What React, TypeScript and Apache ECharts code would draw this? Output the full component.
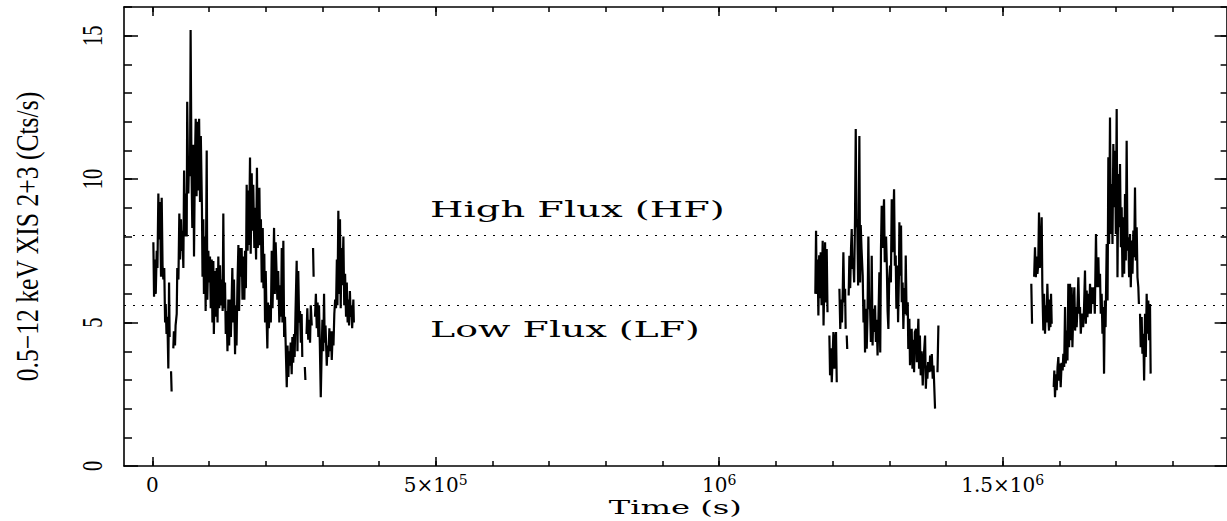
import React, { useEffect, useRef } from "react";
import * as echarts from "echarts";

// Light curve: [time (ks), rate (cts/s)]; null marks a data gap
const seg1: Array<[number, number | null]> = [
  [1.8, 7.8], [3.0, 5.9], [4.5, 7.2], [6.0, 6.0], [7.7, 7.5], [9.0, 6.9], [10.6, 9.5], [12.0, 7.9], [13.5, 9.2],
  [15.3, 6.6], [16.5, 9.35], [18.0, 7.0], [19.4, 6.5], [21, 6.9], [22.5, 5.0], [23.6, 5.65], [25, 4.6], [26.5, 5.2],
  [28.2, 3.4], [29.5, 6.4], [30.5, 4.5], [31.5, null], [33, 3.3], [34, 2.6], [35.5, null], [37, 4.1], [38, 4.7],
  [40, 4.2], [41, 4.9], [43, 5.3], [44, 6.9], [46, 6.5], [47.6, 8.8], [49, 7.2], [50.5, 8.6], [51.8, 7.5], [53, 8.2],
  [54.7, 6.9], [56, 10.3], [57.5, 8.0], [59, 9.5], [60.6, 8.0], [61.5, 12.7], [63.5, 9.5], [64.5, 10.5], [66.5, 10.1],
  [67.5, 15.2], [69, 10.5], [70.5, 8.3], [72.3, 11.2], [73.5, 7.3], [75, 10.5], [76.5, 12.1], [78, 9.4], [79.5, 12.0],
  [81.1, 9.6], [82.5, 12.1], [84.1, 9.2], [85.5, 11.5], [87.5, 9.0], [88.5, 6.6], [89.9, 8.6], [91, 6.0], [92.9, 8.0],
  [94, 5.4], [95.9, 11.0], [97, 5.8], [98.8, 7.5], [100, 6.4], [101.7, 7.3], [103, 5.5], [104.7, 7.2], [106, 5.0],
  [107.6, 7.15], [108.5, 4.6], [110.6, 6.8], [112, 5.2], [113.5, 6.9], [115, 5.0], [116.4, 7.3], [118, 5.5], [119.4, 7.0],
  [121, 5.6], [122.5, 6.5], [124, 5.4], [125.2, 8.8], [126.5, 5.5], [128.2, 6.4], [129.5, 4.6], [131.2, 5.4], [132.5, 4.0],
  [134.1, 5.8], [135.5, 4.2], [137, 5.8], [138.5, 4.5], [141.1, 6.9], [142.5, 5.0], [144, 6.5], [145.9, 3.9], [147, 5.6],
  [148.5, 4.2], [150, 6.2], [151.8, 7.7], [153, 5.4], [154.7, 7.6], [156, 6.6], [157.6, 7.6], [159, 5.8], [160.5, 7.3],
  [162.3, 5.8], [163.5, 7.5], [165, 6.2], [166.4, 9.8], [168, 7.5], [169.3, 9.6], [170.5, 7.7], [172.3, 10.75], [173.5, 7.4],
  [175.3, 10.2], [176.5, 8.2], [178, 9.8], [179.9, 7.6], [181, 9.0], [183, 7.2], [184.5, 10.4], [186, 7.6], [188.8, 9.7],
  [190, 7.7], [191.5, 8.6], [193, 6.4], [194.7, 8.3], [196, 6.2], [197.5, 7.4], [198.8, 5.0], [200, 6.8], [201.5, 5.2],
  [202.9, 4.1], [204, 5.7], [205.5, 4.8], [207.6, 5.6], [209, 5.0], [210.6, 7.5], [212, 5.5], [213.5, 7.0], [214.7, 8.3],
  [216, 6.0], [217.5, 7.8], [219.4, 6.6], [220.5, 5.8], [222, 6.8], [224, 5.0], [225.5, 6.3], [227, 5.2], [228.3, 7.6],
  [229.5, 5.0], [231.1, 7.85], [232.5, 4.5], [234, 5.2], [235.5, 4.0], [237.1, 2.75], [238.5, 4.2], [240, 3.1], [241.1, 4.0],
  [242.5, 3.5], [244, 4.3], [245.8, 3.2], [247, 4.5], [248.5, 3.6], [249.9, 4.6], [251, 3.8], [252.5, 5.3], [254.6, 7.15],
  [256, 4.0], [257.4, 6.8], [259, 5.0], [260.5, 5.4], [262, 4.3], [263.4, 5.3], [264.5, 3.8], [266.5, null], [269, 3.45],
  [270, 3.0], [271, null], [272, 4.6], [273.4, 5.5], [275, 4.4], [276.5, 5.1], [278.2, 4.3], [279.5, 5.6], [281.2, 4.9],
  [282.3, null], [283.5, 7.6], [284.5, 6.6], [285.5, null], [287, 5.2], [288.5, 6.0], [290, 4.8], [291.5, 5.7], [292.8, 4.5],
  [294, 5.6], [295.5, 4.2], [297.1, 2.4], [298.5, 3.8], [300, 5.1], [301.5, 4.0], [302.9, 6.0], [304, 4.3], [305.5, 4.9],
  [307.7, 3.5], [309, 4.2], [310.5, 3.8], [312.3, 4.8], [313.5, 4.0], [315, 4.7], [316.5, 3.7], [318.2, 4.7], [319.5, 4.2],
  [321, 5.3], [322.5, 5.8], [324, 5.5], [325.5, 7.2], [326.5, 5.6], [328.1, 8.9], [329.5, 6.0], [331, 8.6], [332.3, 5.5],
  [333.5, 7.6], [335, 6.3], [337, 8.0], [338.5, 5.6], [340, 6.7], [341.7, 5.2], [343, 6.4], [344.5, 5.0], [345.7, 5.8],
  [347, 4.9], [348.5, 6.1], [349.9, 5.2], [351, 5.6], [352.5, 4.8], [354.6, 5.8], [355.5, 5.0],
];

const seg2: Array<[number, number | null]> = [
  [1169.5, 6.0], [1170.8, 8.2], [1172, 6.0], [1173.5, 7.2], [1174.9, 5.25], [1176.3, 7.35], [1177.8, 5.85], [1179, 7.45],
  [1180.5, 5.6], [1182.5, 7.85], [1184, 4.9], [1185.5, 6.5], [1186.7, 7.8], [1188, 5.7], [1189.6, 7.56], [1191, 5.36],
  [1192.5, null], [1194.3, 4.55], [1195.5, 3.16], [1197.2, 4.1], [1198.5, 2.92], [1200, 3.8], [1201.4, 4.67], [1203, 3.39],
  [1204.5, 4.4], [1206, 4.67], [1207.3, 2.92], [1209, null], [1212, 6.18], [1213.5, 4.78], [1215, 5.8], [1216.5, 5.0],
  [1218, 6.2], [1219, 7.45], [1220.5, 5.7], [1222, 6.18], [1223, 4.78], [1224, null], [1224.9, 4.55], [1225.8, 4.08],
  [1227, null], [1228.3, 5.94], [1229.6, 7.33], [1231, 6.2], [1232.5, 7.6], [1233.7, 8.26], [1235, 6.87], [1236.6, 7.1],
  [1238, 6.4], [1239.5, 8.6], [1240.8, 11.75], [1242, 8.61], [1243.7, 8.27], [1245, 6.29], [1247.2, 11.5], [1248.5, 6.4],
  [1249.6, 8.4], [1251, 7.57], [1253.1, 6.63], [1254.5, 5.0], [1256, 5.8], [1257.2, 3.96], [1258.5, 5.48], [1260.2, 4.09],
  [1261.5, 5.2], [1263.1, 8.0], [1264.5, 5.47], [1266, 5.6], [1267.5, 4.32], [1269, 7.33], [1270.5, 4.2], [1271.9, 5.48],
  [1273.5, 4.67], [1274.9, 5.6], [1276.3, 4.32], [1277.8, 5.1], [1279.3, 3.85], [1281, 5.3], [1282.5, 6.75], [1284, 3.96],
  [1285.3, 7.56], [1286.6, 9.07], [1288, 7.6], [1289.5, 8.6], [1290.7, 9.3], [1292, 7.1], [1294.3, 8.0], [1295.5, 7.1],
  [1297, 5.4], [1298.4, 4.78], [1299.8, 6.5], [1301.3, 6.99], [1302.8, 6.4], [1304.3, 9.3], [1305.5, 7.45], [1307, 8.4],
  [1308.4, 9.65], [1309.8, 6.98], [1311.3, 7.34], [1312.5, 5.48], [1314.3, 6.99], [1315.5, 5.01], [1317, 6.64], [1317.8, 8.5],
  [1319, 6.63], [1320.7, 8.38], [1322, 5.71], [1323.5, 6.4], [1324.8, 4.78], [1326.5, 6.2], [1328, 5.3], [1329, 7.34],
  [1330.5, 5.25], [1332.5, 5.71], [1333.5, 4.08], [1335.4, 5.13], [1336.5, 3.51], [1338, 4.6], [1339.5, 4.78], [1340.8, 3.39],
  [1342.3, 4.4], [1343.7, 3.27], [1345, 4.67], [1347.2, 4.78], [1348.5, 3.62], [1350, 4.4], [1351.3, 5.13], [1352.5, 3.39],
  [1354, 4.55], [1355.4, 3.16], [1357, 4.0], [1359, 2.81], [1360.5, 3.7], [1363.1, 4.55], [1364.5, 2.69], [1366, 3.5],
  [1367.2, 3.04], [1368.5, 3.62], [1370.7, 3.27], [1372, 3.85], [1373.6, 3.3], [1375, 3.9], [1376.6, 3.04], [1378, 3.5],
  [1380.7, 2.0], [1383, null], [1385, 3.27], [1386.6, 4.9],
];

const seg3: Array<[number, number | null]> = [
  [1550.5, 6.35], [1551.8, 4.96], [1553.5, null], [1555.5, 6.6], [1557, 7.62], [1558.5, 6.58], [1560, 7.3], [1561.3, 6.7],
  [1562.7, 7.0], [1564.1, 8.84], [1565.5, 6.9], [1567, 7.4], [1568.8, 8.67], [1570, 6.23], [1571.7, 4.72], [1573, 6.0],
  [1574.7, 4.61], [1576, 5.6], [1577.5, 5.0], [1578.8, 6.35], [1580.3, 5.31], [1581.7, 4.72], [1583, 5.8], [1584.3, 4.84],
  [1585.3, 6.0], [1586.5, 4.96], [1588, null], [1590, 2.75], [1591.1, 3.33], [1592.3, 2.4], [1594, 3.2], [1595.3, 2.64],
  [1596.8, 3.45], [1598.2, 3.8], [1599.5, 2.97], [1601, 3.57], [1602.3, 2.75], [1604, 3.6], [1605.8, 3.33], [1607, 3.91],
  [1608.5, 3.45], [1610, 5.54], [1611.3, 3.57], [1612.9, 4.72], [1614.3, 3.68], [1615.8, 6.35], [1617.2, 4.14], [1618.8, 6.35],
  [1620.2, 4.38], [1621.7, 6.23], [1623, 4.14], [1624.7, 5.5], [1626.4, 6.23], [1627.8, 4.72], [1629, 5.54], [1630.5, 4.84],
  [1632, 5.6], [1633.5, 6.58], [1635, 5.31], [1636.4, 5.54], [1637.8, 4.61], [1639.2, 5.2], [1640.5, 5.31], [1642, 4.84],
  [1643.5, 5.5], [1645.2, 6.81], [1646.7, 4.96], [1648.2, 6.12], [1649.5, 5.19], [1651.1, 6.0], [1652.5, 5.31], [1654.1, 6.35],
  [1655.5, 5.31], [1657, 6.23], [1658.5, 5.65], [1660, 6.0], [1661.1, 6.23], [1662.5, 5.31], [1664.6, 8.09], [1666, 6.23],
  [1667.5, 7.0], [1668.8, 7.28], [1670, 6.23], [1671.7, 6.7], [1673, 5.31], [1674.6, 6.0], [1676, 4.61], [1677.6, 5.54],
  [1678.8, 3.22], [1680.2, 5.77], [1681.5, 4.84], [1683.5, 7.74], [1685, 5.77], [1686.4, 10.76], [1687.8, 7.74], [1689.3, 12.15],
  [1690.7, 8.09], [1692.3, 9.83], [1693.7, 7.74], [1695.2, 11.22], [1696.6, 9.02], [1698.2, 10.99], [1699.6, 8.09], [1701.1, 12.44],
  [1702.5, 6.58], [1704.1, 10.18], [1705.5, 8.32], [1707, 10.53], [1708.5, 7.63], [1709.9, 9.02], [1711.3, 6.58], [1712.9, 8.67],
  [1714.3, 6.7], [1715.8, 9.48], [1717.2, 7.16], [1718.7, 11.34], [1720.2, 7.51], [1721.7, 7.97], [1723, 6.58], [1724.6, 8.09],
  [1726, 6.23], [1727.6, 7.86], [1729, 6.7], [1730.5, 8.21], [1732, 7.28], [1733.4, 9.71], [1734.9, 7.16], [1736.4, 8.32],
  [1737.8, 6.58], [1739.3, 6.23], [1740.3, 5.65], [1741.3, null], [1742.3, 5.31], [1743.5, 4.14], [1745.2, 5.19], [1746.5, 3.91],
  [1748.1, 4.61], [1749.5, 2.98], [1751.1, 5.31], [1752.5, 3.8], [1754, 6.0], [1755.5, 4.61], [1756.9, 5.77], [1758.3, 4.38],
  [1759.9, 5.65], [1761, 3.22],
];

const HF_LEVEL = 8.05;
const LF_LEVEL = 5.6;

const X_MIN = -5e4;
const X_MAX = 1.895e6;
const Y_MIN = 0;
const Y_MAX = 16;

const xMajorTicks = [0, 5e5, 1e6, 1.5e6];
const xTickMantissa = ["0", "5×10", "10", "1.5×10"];
const xTickExponent = ["", "5", "6", "6"];
const xMinorTicks = [0, 1e5, 2e5, 3e5, 4e5, 5e5, 6e5, 7e5, 8e5, 9e5, 1e6, 1.1e6, 1.2e6, 1.3e6, 1.4e6, 1.5e6, 1.6e6, 1.7e6, 1.8e6];
const yMajorTicks = [0, 5, 10, 15];
const yTickLabels = ["0", "5", "10", "15"];
const yMinorTicks = [1, 2, 3, 4, 5, 6, 7, 8, 9, 10, 11, 12, 13, 14, 15, 16];

const X_NAME = "Time (s)";
const Y_NAME = "0.5−12 keV XIS 2+3 (Cts/s)";

const annotations = [
  { text: "High Flux (HF)", x0: 4.9e5, x1: 1.01e6, y: 8.95 },
  { text: "Low Flux (LF)", x0: 4.9e5, x1: 0.966e6, y: 4.76 },
];

const SERIF = "'DejaVu Serif', 'Liberation Serif', serif";
const TALL_SERIF = "'Liberation Serif', 'DejaVu Serif', serif";

function buildData() {
  const out: Array<[number, number | string]> = [];
  [seg1, seg2, seg3].forEach((seg, i) => {
    if (i > 0) out.push([seg[0][0] * 1000, "-"]);
    seg.forEach(([t, v]) => out.push([t * 1000, v === null ? "-" : v]));
  });
  return out;
}

export default function App() {
  const ref = useRef<HTMLDivElement>(null);

  useEffect(() => {
    if (!ref.current) return;
    const chart = echarts.init(ref.current, undefined, { renderer: "svg" });
    const black = "#000";
    const frameLine = { show: true, onZero: false, lineStyle: { color: black, width: 1.6 } };
    const noLine = { show: false, onZero: false };
    const tickStyle = { color: black, width: 1.5 };

    const xBase = {
      type: "value" as const,
      min: X_MIN,
      max: X_MAX,
      splitLine: { show: false },
      gridIndex: 0,
    };
    const yBase = {
      type: "value" as const,
      min: Y_MIN,
      max: Y_MAX,
      splitLine: { show: false },
      gridIndex: 0,
    };

    const option: any = {
      animation: false,
      backgroundColor: "#fff",
      grid: { left: 124, top: 7, width: 1102.6, height: 459, containLabel: false, outerBoundsMode: "none" },
      xAxis: [
        {
          ...xBase,
          position: "bottom",
          axisLine: frameLine,
          axisTick: { show: true, inside: true, length: 9, customValues: xMajorTicks, lineStyle: tickStyle },
          axisLabel: {
            show: true,
            customValues: xMajorTicks,
            margin: 7,
            color: black,
            formatter: (v: number) => {
              const i = xMajorTicks.indexOf(v);
              if (i < 0) return "";
              return xTickExponent[i] ? `{m|${xTickMantissa[i]}}{e|${xTickExponent[i]}}` : `{m|${xTickMantissa[i]}}`;
            },
            rich: {
              m: { fontFamily: SERIF, fontSize: 20, color: black, lineHeight: 24 },
              e: { fontFamily: SERIF, fontSize: 14, color: black, verticalAlign: "top", lineHeight: 24, padding: [0, 0, 10, 0] },
            },
          },
        },
        {
          ...xBase,
          position: "bottom",
          axisLine: noLine,
          axisTick: { show: true, inside: true, length: 5, customValues: xMinorTicks, lineStyle: tickStyle },
          axisLabel: { show: false },
        },
        {
          ...xBase,
          position: "top",
          axisLine: frameLine,
          axisTick: { show: true, inside: true, length: 9, customValues: xMajorTicks, lineStyle: tickStyle },
          axisLabel: { show: false },
        },
        {
          ...xBase,
          position: "top",
          axisLine: noLine,
          axisTick: { show: true, inside: true, length: 5, customValues: xMinorTicks, lineStyle: tickStyle },
          axisLabel: { show: false },
        },
      ],
      yAxis: [
        {
          ...yBase,
          position: "left",
          axisLine: frameLine,
          axisTick: { show: true, inside: true, length: 14, customValues: yMajorTicks, lineStyle: tickStyle },
          axisLabel: { show: false },
        },
        {
          ...yBase,
          position: "left",
          axisLine: noLine,
          axisTick: { show: true, inside: true, length: 8, customValues: yMinorTicks, lineStyle: tickStyle },
          axisLabel: { show: false },
        },
        {
          ...yBase,
          position: "right",
          axisLine: frameLine,
          axisTick: { show: true, inside: true, length: 12, customValues: yMajorTicks, lineStyle: tickStyle },
          axisLabel: { show: false },
        },
        {
          ...yBase,
          position: "right",
          axisLine: noLine,
          axisTick: { show: true, inside: true, length: 6, customValues: yMinorTicks, lineStyle: tickStyle },
          axisLabel: { show: false },
        },
      ],
      series: [
        {
          name: "XIS 2+3",
          type: "line",
          xAxisIndex: 0,
          yAxisIndex: 0,
          data: buildData(),
          showSymbol: false,
          symbol: "none",
          connectNulls: false,
          silent: true,
          lineStyle: { color: black, width: 2.2 },
          markLine: {
            silent: true,
            symbol: ["none", "none"],
            label: { show: false },
            lineStyle: { color: black, width: 1.2, type: [2, 7] },
            data: [{ yAxis: HF_LEVEL }, { yAxis: LF_LEVEL }],
          },
        },
      ],
    };
    chart.setOption(option);

    const ctx = document.createElement("canvas").getContext("2d");
    const measure = (text: string, family: string, size: number) => {
      if (!ctx) return text.length * size * 0.55;
      ctx.font = `${size}px ${family}`;
      return ctx.measureText(text).width;
    };
    const toPx = (x: number, y: number) =>
      chart.convertToPixel({ xAxisIndex: 0, yAxisIndex: 0 }, [x, y]) as number[];

    const graphics: any[] = [];

    // in-plot annotations
    const annSize = 22;
    annotations.forEach((a) => {
      const p0 = toPx(a.x0, a.y);
      const p1 = toPx(a.x1, a.y);
      const s = (p1[0] - p0[0]) / measure(a.text, "'DejaVu Serif'", annSize);
      graphics.push({
        type: "text",
        x: p0[0],
        y: p0[1],
        scaleX: s,
        silent: true,
        style: { text: a.text, fontFamily: SERIF, fontSize: annSize, fill: black, align: "left", verticalAlign: "middle" },
      });
    });

    // y tick labels (rotated, tall condensed serif as in the original)
    const yLabSize = 30;
    yMajorTicks.forEach((v, i) => {
      const p = toPx(X_MIN, v);
      graphics.push({
        type: "text",
        x: p[0] - 32,
        y: p[1],
        rotation: Math.PI / 2,
        scaleX: 0.68,
        silent: true,
        style: { text: yTickLabels[i], fontFamily: TALL_SERIF, fontSize: yLabSize, fill: black, align: "center", verticalAlign: "middle" },
      });
    });

    // y axis title
    const yNameSize = 31;
    const pTop = toPx(X_MIN, Y_MAX);
    const pBot = toPx(X_MIN, Y_MIN);
    const yNameScale = 290 / measure(Y_NAME, "'Liberation Serif'", yNameSize);
    graphics.push({
      type: "text",
      x: pBot[0] - 96,
      y: (pTop[1] + pBot[1]) / 2,
      rotation: Math.PI / 2,
      scaleX: yNameScale,
      silent: true,
      style: { text: Y_NAME, fontFamily: TALL_SERIF, fontSize: yNameSize, fill: black, align: "center", verticalAlign: "middle" },
    });

    // x axis title
    const xNameSize = 18;
    const pL = toPx(X_MIN, Y_MIN);
    const pR = toPx(X_MAX, Y_MIN);
    const xNameScale = 133 / measure(X_NAME, "'DejaVu Serif'", xNameSize);
    graphics.push({
      type: "text",
      x: (pL[0] + pR[0]) / 2,
      y: pL[1] + 42,
      scaleX: xNameScale,
      silent: true,
      style: { text: X_NAME, fontFamily: SERIF, fontSize: xNameSize, fill: black, align: "center", verticalAlign: "middle" },
    });

    chart.setOption({ graphic: graphics });

    return () => chart.dispose();
  }, []);

  return (
    <div
      ref={ref}
      style={{ position: "fixed", left: 0, top: 0, width: 1227, height: 521, background: "#fff" }}
    />
  );
}
